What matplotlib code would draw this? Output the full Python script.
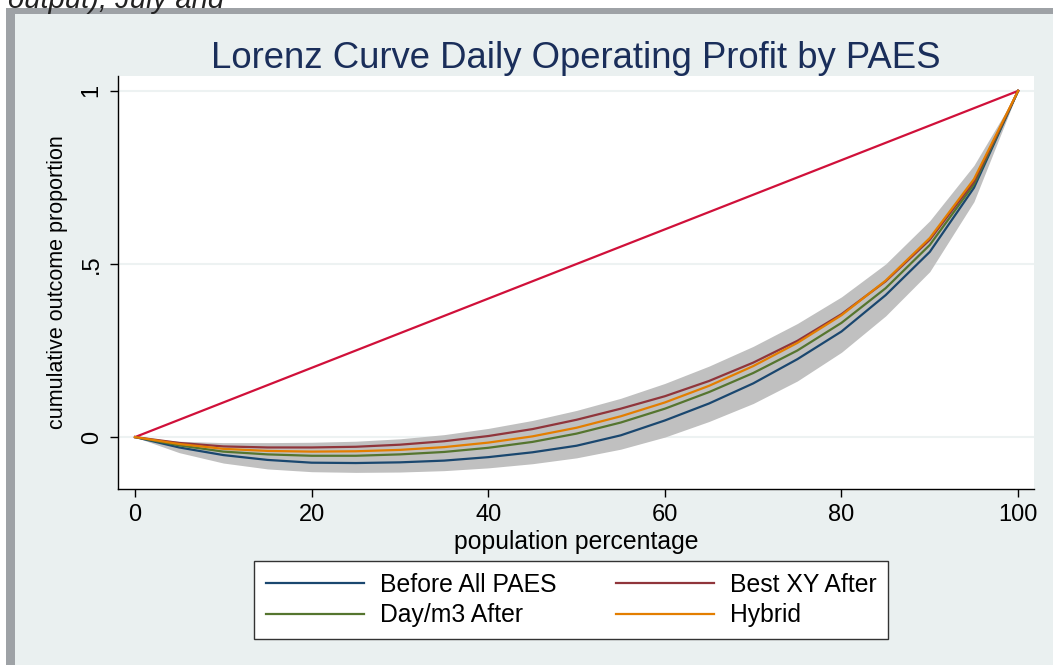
import matplotlib.pyplot as plt
from matplotlib.patches import Rectangle
from matplotlib.lines import Line2D

plt.rcParams['font.family'] = ['Liberation Sans', 'DejaVu Sans']

# population percentage (step 5)
pct = [0, 5, 10, 15, 20, 25, 30, 35, 40, 45, 50, 55, 60, 65, 70, 75, 80, 85, 90, 95, 100]

before = [0, -0.030, -0.052, -0.066, -0.074, -0.075, -0.073, -0.068, -0.058, -0.044, -0.025,
          0.005, 0.048, 0.097, 0.155, 0.225, 0.305, 0.410, 0.535, 0.720, 1.0]
daym3 = [0, -0.024, -0.042, -0.050, -0.054, -0.054, -0.050, -0.043, -0.031, -0.014, 0.010,
         0.042, 0.082, 0.130, 0.185, 0.250, 0.330, 0.430, 0.555, 0.730, 1.0]
hybrid = [0, -0.020, -0.034, -0.040, -0.042, -0.041, -0.037, -0.029, -0.016, 0.002, 0.027,
          0.060, 0.100, 0.148, 0.205, 0.272, 0.352, 0.452, 0.575, 0.745, 1.0]
bestxy = [0, -0.017, -0.027, -0.030, -0.030, -0.028, -0.022, -0.012, 0.003, 0.023, 0.050,
          0.082, 0.118, 0.162, 0.215, 0.278, 0.355, 0.450, 0.570, 0.738, 1.0]
band_hi = [0, -0.012, -0.016, -0.016, -0.015, -0.012, -0.005, 0.007, 0.025, 0.048, 0.077,
           0.112, 0.155, 0.205, 0.262, 0.328, 0.405, 0.500, 0.625, 0.785, 1.0]
band_lo = [0, -0.045, -0.075, -0.092, -0.100, -0.102, -0.101, -0.097, -0.089, -0.077, -0.060,
           -0.035, 0.000, 0.045, 0.097, 0.162, 0.245, 0.350, 0.478, 0.680, 1.0]

equality_x = [0, 100]
equality_y = [0, 1]

W, H = 1053, 665
fig = plt.figure(figsize=(W / 100, H / 100), dpi=100, facecolor='white')

# stata-like graph region with grey frame
fig.patches.append(Rectangle((6 / W, 0), 1, (H - 8) / H, transform=fig.transFigure,
                             facecolor='#9ea2a6', edgecolor='none', zorder=-2))
fig.patches.append(Rectangle((15 / W, 0), 1, (H - 14) / H, transform=fig.transFigure,
                             facecolor='#eaf0f0', edgecolor='none', zorder=-1))
# tail of the caption above the graph, cut by the image edge as in the source
fig.text(8 / W, 1.0 + 14 / H, 'output), July and', fontsize=21, style='italic',
         va='top', ha='left', color='#222222')

ax = fig.add_axes([118 / W, 176 / H, 916 / W, 413 / H])
ax.set_facecolor('white')

ax.fill_between(pct, band_lo, band_hi, color='#c0c0c0', lw=0, zorder=1)
ax.plot(equality_x, equality_y, color='#d0103a', lw=1.6, zorder=3)
ax.plot(pct, before, color='#1a476f', lw=1.6, zorder=4)
ax.plot(pct, daym3, color='#55752f', lw=1.6, zorder=4)
ax.plot(pct, bestxy, color='#90353b', lw=1.6, zorder=4)
ax.plot(pct, hybrid, color='#e37e00', lw=1.6, zorder=5)

ax.set_xlim(-1.93, 101.8)
ax.set_ylim(-0.150, 1.043)
ax.set_xticks([0, 20, 40, 60, 80, 100])
ax.set_yticks([0, 0.5, 1])
ax.set_yticklabels(['0', '.5', '1'], rotation=90, va='center')
ax.yaxis.grid(True, color='#edf2f2', lw=1.5, zorder=0)
ax.set_axisbelow(True)

for s in ['top', 'right']:
    ax.spines[s].set_visible(False)
for s in ['left', 'bottom']:
    ax.spines[s].set_color('black')
    ax.spines[s].set_linewidth(1.0)
ax.tick_params(direction='out', length=6, width=1.0, labelsize=17, pad=5)

ax.set_xlabel('population percentage', fontsize=17.8, labelpad=3)
ax.set_ylabel('cumulative outcome proportion', fontsize=15.5, labelpad=9)
ax.set_title('Lorenz Curve Daily Operating Profit by PAES', fontsize=26.3,
             color='#1a2e5a', pad=4)

handles = [Line2D([], [], color='#1a476f', lw=1.6),
           Line2D([], [], color='#55752f', lw=1.6),
           Line2D([], [], color='#90353b', lw=1.6),
           Line2D([], [], color='#e37e00', lw=1.6)]
labels = ['Before All PAES', 'Day/m3 After', 'Best XY After', 'Hybrid']
leg = fig.legend(handles, labels, ncol=2, loc='center', bbox_to_anchor=(571 / W, 1 - 600 / H),
                 fontsize=17.8, frameon=True, fancybox=False, handlelength=3.97,
                 columnspacing=2.4, handletextpad=0.65, borderpad=0.45, labelspacing=0.28,
                 framealpha=1, facecolor='white')
leg.get_frame().set_edgecolor('#333333')
leg.get_frame().set_linewidth(1.0)

fig.savefig('out.png', dpi=100)
